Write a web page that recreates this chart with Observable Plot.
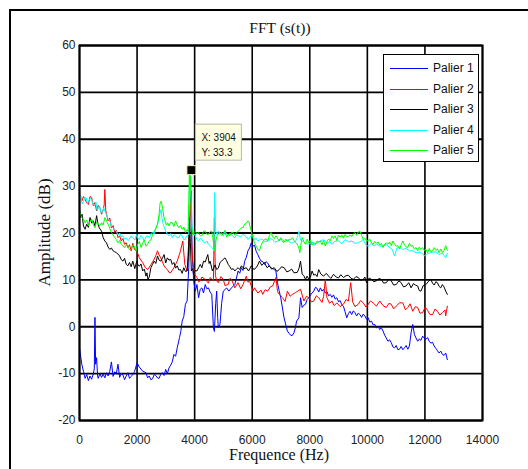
<!DOCTYPE html>
<html><head><meta charset="utf-8">
<script src="https://cdn.jsdelivr.net/npm/d3@7"></script>
<script src="https://cdn.jsdelivr.net/npm/@observablehq/plot@0.6"></script>
<style>
body{margin:0;background:#fff;}
#wrap{position:relative;width:528px;height:469px;overflow:hidden;background:#fff;}
#wrap svg{position:absolute;left:0;top:0;}
#fig{position:absolute;left:9px;top:9px;width:540px;height:480px;border-top:2px solid #000;border-left:2px solid #000;pointer-events:none;}
.ttl{position:absolute;font-family:"Liberation Serif","Times New Roman",serif;color:#111;white-space:nowrap;line-height:1;}
#legend{position:absolute;left:383px;top:54px;width:96px;height:108px;background:#fff;border:1px solid #000;box-sizing:border-box;font-family:"Liberation Sans",Arial,sans-serif;font-size:12px;color:#111;}
#legend .row{position:absolute;left:0;height:14px;line-height:14px;}
#legend .sw{position:absolute;left:6px;top:7px;width:38px;height:0;border-top:1px solid;}
#legend .lb{position:absolute;left:49px;top:0;white-space:nowrap;}
</style></head>
<body>
<div id="wrap"></div>
<script>
const seriesNames = ["Palier 1","Palier 2","Palier 3","Palier 4","Palier 5"];
const seriesColors = ["#0000ff","#ff0000","#000000","#00ffff","#00ff00"];
const xTicks = [0,2000,4000,6000,8000,10000,12000,14000];
const yTicks = [-20,-10,0,10,20,30,40,50,60];
const tipX = 3904, tipY = 33.3;
const tipLabels = ["X: 3904","Y: 33.3"];

const palier1 = [[0,-4.5],[80,-8.0],[137,-9.5],[194,-11.0],[251,-10.2],[309,-11.5],[366,-10.5],[423,-11.2],[480,-10.0],[514,-9.0],[537,2.0],[560,-8.0],[594,-6.6],[629,-10.5],[651,-11.0],[709,-10.0],[766,-10.8],[823,-10.1],[880,-10.9],[937,-9.8],[994,-10.5],[1052,-9.5],[1109,-7.5],[1166,-10.6],[1223,-9.6],[1280,-10.0],[1337,-8.0],[1394,-10.8],[1452,-9.9],[1509,-10.3],[1566,-11.3],[1623,-10.5],[1680,-9.8],[1737,-11.0],[1795,-10.6],[1852,-10.2],[1909,-9.6],[2000,-7.7],[2080,-8.6],[2195,-9.5],[2309,-9.8],[2366,-10.9],[2423,-10.5],[2480,-11.3],[2537,-11.1],[2595,-10.2],[2652,-10.4],[2709,-10.9],[2766,-11.0],[2823,-10.1],[2880,-9.8],[2938,-10.4],[2995,-9.1],[3052,-10.0],[3109,-8.8],[3166,-8.2],[3223,-7.5],[3280,-5.9],[3338,-6.3],[3395,-4.5],[3475,-2.3],[3520,-1.0],[3566,1.2],[3623,2.2],[3680,4.8],[3738,5.5],[3795,12.6],[3852,26.8],[3886,29.0],[3909,16.0],[3966,9.8],[4023,7.6],[4080,9.0],[4137,6.2],[4195,8.0],[4252,8.3],[4309,7.2],[4366,9.0],[4423,8.1],[4480,8.3],[4537,7.4],[4595,6.9],[4652,-0.2],[4686,-1.0],[4732,5.0],[4766,7.6],[4800,2.0],[4823,-0.2],[4880,0.5],[4937,5.0],[4995,7.6],[5052,7.9],[5109,8.3],[5189,7.6],[5281,8.3],[5395,9.0],[5452,10.4],[5509,11.9],[5566,11.4],[5624,12.6],[5681,12.0],[5738,14.0],[5795,14.8],[5852,16.2],[5909,16.8],[5966,17.9],[6023,17.2],[6081,17.4],[6138,16.1],[6195,15.4],[6252,14.6],[6309,14.0],[6366,13.9],[6423,13.3],[6480,13.9],[6538,13.6],[6595,12.9],[6652,12.6],[6738,12.3],[6823,11.9],[6877,9.4],[6935,7.7],[6991,6.2],[7050,4.0],[7106,1.9],[7160,0.6],[7221,-0.9],[7280,-1.4],[7335,-1.8],[7390,-1.9],[7450,-1.3],[7500,-0.2],[7541,1.2],[7622,1.9],[7679,6.2],[7736,4.1],[7794,4.6],[7851,4.8],[7908,5.8],[7966,6.2],[8050,7.0],[8138,7.6],[8195,8.4],[8252,8.2],[8310,7.4],[8367,8.3],[8424,7.6],[8481,8.0],[8540,7.2],[8596,7.5],[8654,6.6],[8711,6.9],[8768,6.3],[8825,6.8],[8882,5.9],[8940,6.2],[9000,5.3],[9054,5.6],[9112,4.7],[9169,4.4],[9226,3.2],[9284,1.9],[9341,2.8],[9398,3.3],[9455,2.6],[9513,3.4],[9570,3.0],[9627,2.3],[9685,2.9],[9742,2.6],[9800,2.0],[9857,2.7],[9914,2.3],[9971,1.6],[10029,1.9],[10086,1.0],[10143,1.2],[10200,0.4],[10258,0.5],[10315,-0.3],[10372,0.1],[10430,-0.6],[10486,-0.2],[10544,-0.9],[10601,-1.8],[10658,-2.4],[10716,-3.1],[10773,-2.8],[10831,-3.4],[10888,-4.3],[10946,-4.5],[11002,-4.0],[11060,-4.9],[11117,-4.8],[11174,-4.2],[11232,-4.9],[11289,-4.5],[11346,-4.0],[11404,-4.8],[11461,-4.1],[11519,-1.3],[11576,0.5],[11633,-1.6],[11690,-2.4],[11748,-3.1],[11805,-2.6],[11862,-2.9],[11920,-2.0],[11977,-2.4],[12034,-2.7],[12092,-2.3],[12149,-3.1],[12206,-3.5],[12263,-3.3],[12321,-4.1],[12378,-4.6],[12435,-5.1],[12493,-5.6],[12550,-5.2],[12607,-5.9],[12664,-6.1],[12722,-5.6],[12779,-7.0]];

const palier2 = [[0,28.3],[80,26.8],[137,27.8],[194,27.2],[251,26.4],[309,26.1],[366,27.8],[423,27.5],[480,25.8],[537,26.5],[594,24.7],[651,25.9],[709,25.4],[766,24.0],[823,25.0],[857,26.0],[880,29.3],[914,24.7],[994,22.6],[1052,23.2],[1109,21.1],[1166,21.6],[1223,20.1],[1280,20.6],[1337,19.0],[1394,19.4],[1452,18.3],[1509,18.8],[1566,17.6],[1623,17.9],[1680,16.9],[1737,17.5],[1795,16.2],[1852,17.8],[1909,16.5],[1989,16.2],[2080,14.7],[2195,13.7],[2286,12.6],[2366,12.2],[2480,13.2],[2595,14.4],[2652,15.2],[2709,16.2],[2766,15.3],[2823,14.7],[2938,13.0],[2995,12.5],[3052,12.2],[3109,11.6],[3166,11.5],[3280,12.6],[3395,14.0],[3509,16.2],[3589,18.3],[3658,13.3],[3738,11.9],[3795,18.3],[3829,23.3],[3863,26.8],[3898,18.0],[3932,14.0],[4000,11.2],[4080,10.5],[4137,9.6],[4195,9.8],[4252,10.6],[4366,10.1],[4480,9.3],[4537,10.5],[4652,9.8],[4686,23.3],[4720,11.0],[4766,9.8],[4823,9.4],[4915,10.7],[4995,10.1],[5052,8.8],[5166,9.0],[5223,10.3],[5281,10.1],[5395,8.3],[5509,9.4],[5600,8.1],[5681,9.0],[5795,10.8],[5852,9.5],[5909,9.8],[6023,7.6],[6080,8.3],[6195,7.2],[6309,7.8],[6366,6.9],[6446,7.9],[6538,7.6],[6629,8.5],[6709,8.7],[6823,10.5],[6880,7.5],[6937,6.9],[7052,6.2],[7143,5.4],[7223,7.6],[7315,6.5],[7395,6.9],[7507,7.3],[7679,8.0],[7794,5.5],[7885,6.5],[7966,6.2],[8057,5.3],[8138,5.5],[8229,6.6],[8309,6.2],[8424,5.2],[8481,6.5],[8539,10.1],[8596,6.2],[8688,5.0],[8768,5.5],[8848,4.5],[8940,5.1],[9054,4.3],[9169,4.8],[9261,5.8],[9341,5.5],[9421,9.4],[9490,5.3],[9570,4.3],[9685,4.8],[9765,5.6],[9857,5.1],[9948,4.2],[10029,4.8],[10109,5.5],[10200,5.1],[10315,4.4],[10429,5.5],[10544,4.5],[10658,4.1],[10750,5.0],[10831,4.8],[10911,3.8],[11002,4.4],[11117,5.1],[11232,5.1],[11323,3.6],[11404,4.1],[11484,4.9],[11576,3.3],[11667,4.3],[11748,4.1],[11828,2.9],[11920,3.0],[12011,4.2],[12092,3.5],[12172,2.6],[12263,2.6],[12355,3.8],[12435,3.3],[12515,2.5],[12607,3.0],[12698,3.6],[12721,2.3],[12779,4.4]];

const palier3 = [[0,25.0],[46,23.3],[91,24.0],[137,21.5],[194,20.8],[251,21.9],[309,21.2],[366,23.3],[423,22.1],[480,22.6],[537,21.5],[594,23.7],[640,22.0],[686,21.1],[766,20.4],[823,19.0],[880,18.3],[937,17.9],[994,17.0],[1052,16.5],[1109,16.8],[1166,16.2],[1223,16.0],[1280,15.8],[1337,15.5],[1394,15.1],[1452,14.3],[1509,14.0],[1566,14.6],[1623,13.3],[1680,13.0],[1737,13.7],[1795,12.8],[1852,14.0],[1920,12.4],[1989,14.0],[2034,13.2],[2080,12.9],[2137,13.4],[2195,11.9],[2252,12.3],[2309,10.8],[2343,11.5],[2377,10.1],[2423,10.6],[2480,12.6],[2537,13.3],[2595,14.0],[2652,13.5],[2709,15.1],[2766,14.2],[2823,14.0],[2880,14.6],[2938,15.4],[2995,13.6],[3052,14.7],[3109,14.2],[3166,14.4],[3223,13.3],[3280,13.7],[3338,12.5],[3395,13.0],[3452,12.1],[3509,12.2],[3566,11.4],[3623,12.6],[3680,11.8],[3738,11.9],[3783,15.0],[3817,23.3],[3852,18.0],[3886,11.9],[3932,12.4],[3966,11.2],[4023,12.0],[4080,11.9],[4137,12.6],[4195,13.3],[4252,12.6],[4309,14.0],[4366,13.8],[4457,15.4],[4503,13.5],[4537,14.0],[4617,11.9],[4663,12.5],[4709,13.2],[4766,12.2],[4823,12.5],[4880,13.7],[4937,14.0],[4995,14.4],[5052,14.7],[5109,14.1],[5166,13.3],[5223,12.8],[5281,12.2],[5338,12.4],[5395,11.9],[5452,12.3],[5509,12.6],[5566,12.2],[5623,13.0],[5715,12.4],[5795,12.6],[5875,11.9],[5966,13.0],[6058,12.2],[6138,12.6],[6195,13.2],[6251,14.0],[6332,13.1],[6423,13.7],[6515,12.6],[6595,13.0],[6675,12.3],[6766,12.6],[6858,11.8],[6938,12.2],[7018,12.8],[7109,12.6],[7201,11.7],[7281,11.9],[7372,12.3],[7452,11.5],[7565,11.6],[7622,12.4],[7679,14.0],[7736,11.2],[7794,10.9],[7851,10.1],[7908,10.8],[7966,10.1],[8023,10.6],[8080,11.9],[8138,11.0],[8195,11.2],[8252,10.7],[8309,12.2],[8390,11.2],[8481,10.8],[8573,11.4],[8654,10.8],[8734,10.3],[8825,11.2],[8917,10.6],[8997,10.4],[9077,11.1],[9169,10.5],[9261,10.9],[9341,11.0],[9421,10.4],[9513,10.1],[9604,10.7],[9685,10.5],[9765,9.9],[9857,10.1],[9914,10.6],[9971,9.4],[10063,10.4],[10143,10.1],[10223,9.6],[10315,9.8],[10406,10.3],[10486,10.1],[10567,9.3],[10658,9.4],[10750,10.2],[10831,9.8],[10911,8.9],[11002,9.0],[11094,9.8],[11174,9.4],[11254,8.5],[11346,8.7],[11438,9.4],[11519,8.3],[11598,9.2],[11667,8.9],[11748,8.7],[11805,7.7],[11862,7.6],[11942,8.8],[12034,9.0],[12126,9.7],[12206,10.1],[12263,9.3],[12321,8.9],[12378,9.6],[12435,9.4],[12493,8.6],[12550,8.3],[12607,9.0],[12664,8.5],[12721,7.6],[12779,6.9]];

const palier4 = [[0,26.8],[46,27.9],[91,26.2],[137,26.7],[183,27.6],[229,27.5],[274,26.3],[309,26.8],[366,27.4],[423,27.1],[480,26.0],[537,25.8],[571,26.6],[617,24.7],[663,25.6],[709,25.4],[754,24.3],[800,24.5],[846,25.4],[880,24.6],[937,24.0],[994,23.0],[1052,22.6],[1109,21.4],[1166,21.1],[1223,20.8],[1280,20.4],[1337,19.6],[1394,20.0],[1452,19.2],[1509,19.4],[1566,18.7],[1623,19.0],[1680,18.4],[1737,18.7],[1795,19.4],[1852,19.0],[1920,18.5],[1989,19.7],[2034,18.8],[2080,18.6],[2137,19.5],[2195,19.0],[2252,18.3],[2309,19.2],[2366,19.4],[2423,19.0],[2480,19.9],[2537,20.1],[2595,19.8],[2652,21.1],[2709,21.8],[2766,23.3],[2800,24.2],[2834,25.0],[2869,23.0],[2903,22.0],[2949,21.2],[2995,20.4],[3052,19.8],[3109,19.4],[3166,19.9],[3223,19.0],[3280,19.6],[3338,19.4],[3395,19.0],[3452,19.0],[3509,19.7],[3566,19.4],[3623,18.6],[3680,18.7],[3738,19.5],[3795,19.7],[3829,33.2],[3863,31.8],[3898,22.0],[3932,20.4],[3978,19.8],[4023,19.4],[4080,18.6],[4137,18.3],[4195,18.9],[4252,18.6],[4309,18.0],[4366,17.9],[4423,18.3],[4480,17.6],[4537,17.3],[4595,16.9],[4640,16.6],[4674,16.2],[4697,28.6],[4731,20.4],[4777,19.6],[4823,20.4],[4880,19.8],[4937,20.1],[4995,19.3],[5052,20.4],[5109,19.8],[5166,19.4],[5223,19.9],[5281,19.7],[5338,19.2],[5395,19.0],[5452,19.6],[5509,19.4],[5600,19.2],[5681,19.7],[5761,19.4],[5852,18.6],[5909,19.0],[5966,19.4],[6023,19.6],[6081,18.6],[6138,18.9],[6195,18.3],[6286,18.7],[6366,18.6],[6446,18.1],[6538,18.3],[6629,18.8],[6709,18.6],[6789,18.0],[6880,18.3],[6972,18.6],[7052,18.6],[7143,18.1],[7223,18.6],[7315,17.9],[7395,17.9],[7509,18.3],[7565,19.0],[7622,20.4],[7679,18.5],[7736,18.3],[7851,17.8],[7966,17.6],[8080,18.1],[8160,17.4],[8252,17.9],[8367,18.3],[8481,18.6],[8596,17.8],[8688,18.2],[8768,17.6],[8882,18.3],[8997,18.3],[9112,17.7],[9226,18.6],[9341,18.1],[9455,18.3],[9570,17.8],[9685,17.9],[9799,18.3],[9857,18.6],[9948,17.4],[10029,17.2],[10143,17.8],[10223,17.2],[10315,17.6],[10429,17.2],[10544,17.2],[10658,17.6],[10773,16.9],[10865,16.5],[10946,15.1],[11025,16.8],[11117,16.9],[11232,16.5],[11346,16.7],[11461,16.2],[11576,16.2],[11690,15.8],[11805,15.9],[11920,15.6],[11977,15.1],[12057,15.5],[12149,15.7],[12263,15.9],[12378,16.0],[12493,15.4],[12607,15.7],[12664,15.2],[12721,14.7],[12779,15.7]];

const palier5 = [[0,24.7],[46,23.7],[80,23.3],[137,23.0],[194,22.2],[251,22.8],[309,21.5],[366,22.5],[423,23.0],[480,21.8],[537,21.1],[594,22.4],[651,21.9],[709,21.6],[766,22.2],[823,21.7],[880,23.3],[937,22.6],[994,21.9],[1052,21.0],[1109,20.1],[1166,19.6],[1223,19.0],[1280,18.6],[1337,17.9],[1394,18.4],[1452,17.6],[1509,17.3],[1566,16.9],[1623,17.5],[1680,17.2],[1737,16.4],[1795,16.5],[1852,17.4],[1909,17.2],[1966,16.2],[2023,17.6],[2080,18.2],[2137,16.9],[2195,17.8],[2252,18.5],[2309,17.2],[2366,17.6],[2423,18.3],[2480,18.5],[2537,19.6],[2595,20.4],[2652,20.9],[2709,21.9],[2766,24.0],[2800,26.4],[2834,26.8],[2880,25.6],[2926,23.6],[2972,22.6],[3018,21.7],[3063,22.2],[3109,21.5],[3166,22.3],[3223,22.2],[3280,21.4],[3338,22.6],[3395,21.7],[3452,21.1],[3509,21.6],[3566,20.8],[3623,21.3],[3680,20.1],[3738,20.7],[3772,20.4],[3817,32.5],[3852,32.2],[3898,21.0],[3943,19.6],[3978,20.1],[4023,20.4],[4080,19.8],[4137,20.1],[4195,19.4],[4252,19.4],[4309,20.4],[4366,20.4],[4423,19.7],[4480,19.7],[4537,20.3],[4595,20.4],[4629,19.0],[4663,17.6],[4709,16.2],[4743,18.5],[4777,19.4],[4823,19.8],[4880,20.1],[4937,19.5],[4995,19.8],[5052,20.6],[5109,19.1],[5166,19.7],[5223,19.4],[5281,20.2],[5338,20.1],[5395,19.6],[5452,20.1],[5509,20.4],[5566,20.7],[5623,21.1],[5681,21.2],[5738,21.9],[5795,22.1],[5852,22.6],[5886,22.4],[5920,21.5],[5966,20.4],[6023,19.0],[6081,17.8],[6138,17.2],[6195,16.5],[6251,16.2],[6309,17.4],[6366,18.1],[6423,18.6],[6480,18.8],[6538,18.3],[6595,19.4],[6652,20.1],[6709,19.2],[6766,18.8],[6823,19.4],[6880,18.9],[6937,18.3],[6995,19.0],[7052,18.1],[7109,18.0],[7166,18.7],[7223,18.2],[7280,18.7],[7338,18.6],[7395,19.0],[7452,18.4],[7509,17.9],[7565,17.6],[7622,16.8],[7656,15.8],[7702,18.0],[7736,19.0],[7794,18.2],[7851,17.6],[7908,18.7],[7966,17.9],[8023,18.5],[8080,17.4],[8138,18.0],[8195,17.6],[8252,18.3],[8309,18.1],[8367,18.3],[8424,17.5],[8481,18.4],[8539,17.2],[8596,18.2],[8654,18.7],[8711,18.3],[8768,19.4],[8825,18.8],[8882,19.4],[8940,18.4],[8997,19.5],[9054,19.1],[9112,19.6],[9169,18.9],[9226,19.7],[9284,19.2],[9341,19.3],[9398,19.6],[9455,19.2],[9513,19.8],[9570,20.1],[9627,19.5],[9685,20.2],[9742,20.4],[9799,19.5],[9857,18.6],[9914,18.9],[9971,18.3],[10029,18.4],[10086,18.7],[10143,17.9],[10200,17.6],[10258,18.2],[10315,17.8],[10372,18.1],[10429,17.4],[10486,17.8],[10544,16.9],[10601,17.6],[10658,17.9],[10716,17.6],[10773,18.1],[10831,17.3],[10888,18.3],[10946,17.6],[11002,17.2],[11060,17.3],[11117,16.6],[11174,17.5],[11232,18.3],[11289,17.5],[11346,17.0],[11404,16.9],[11461,17.8],[11519,17.2],[11576,17.3],[11633,16.6],[11690,16.9],[11748,16.2],[11805,17.0],[11862,16.5],[11920,16.9],[11977,16.3],[12034,16.5],[12092,15.8],[12149,16.7],[12206,16.0],[12263,16.2],[12321,16.9],[12378,16.3],[12435,16.6],[12493,15.8],[12550,16.6],[12607,15.8],[12664,16.3],[12721,17.3],[12779,16.3]];

const allSeries = [palier1, palier2, palier3, palier4, palier5];
const fmt = d => String(d);

const chart = Plot.plot({
  width: 528, height: 469,
  marginLeft: 79, marginRight: 46, marginTop: 45, marginBottom: 49,
  x: {domain: [0, 14000]},
  y: {domain: [-20, 60]},
  style: {fontFamily: "'Liberation Sans', Arial, sans-serif", fontSize: "12px", color: "#222", background: "transparent", overflow: "visible"},
  marks: [
    Plot.gridX(xTicks, {stroke: "#000", strokeOpacity: 1, strokeWidth: 1.6}),
    Plot.gridY(yTicks, {stroke: "#000", strokeOpacity: 1, strokeWidth: 1.8}),
    Plot.axisX(xTicks, {tickSize: 0, tickPadding: 15, label: null, tickFormat: fmt, fontSize: 12}),
    Plot.axisY(yTicks, {tickSize: 0, tickPadding: 4, label: null, tickFormat: fmt, fontSize: 12}),
    ...allSeries.map((s, i) => Plot.line(s, {x: d => d[0], y: d => d[1], stroke: seriesColors[i], strokeWidth: 1})),
    Plot.frame({stroke: "#000", strokeWidth: 2})
  ]
});

const wrap = document.getElementById("wrap");
wrap.appendChild(chart);

// data tip
const sx = chart.scale("x"), sy = chart.scale("y");
const px = sx.apply(tipX), py = sy.apply(tipY);
const g = d3.select(chart).append("g").attr("text-anchor", "start");
g.append("rect").attr("x", px + 4).attr("y", py - 46).attr("width", 46).attr("height", 36)
  .attr("fill", "#ffffe1").attr("stroke", "#b8b8a8").attr("stroke-width", 1);
tipLabels.forEach((t, i) => {
  g.append("text").attr("x", px + 10).attr("y", py - 29 + i * 15).text(t)
    .attr("text-anchor", "start")
    .attr("font-family", "'Liberation Sans', Arial, sans-serif").attr("font-size", 10).attr("fill", "#111");
});
g.append("rect").attr("x", px - 4.5).attr("y", py - 4.5).attr("width", 9).attr("height", 9)
  .attr("fill", "#000").attr("stroke", "#fff8c0").attr("stroke-width", 1);

// outer figure frame
const fig = document.createElement("div"); fig.id = "fig"; wrap.appendChild(fig);

// titles
function addText(txt, css) {
  const d = document.createElement("div"); d.className = "ttl"; d.textContent = txt;
  Object.assign(d.style, css); wrap.appendChild(d); return d;
}
addText("FFT (s(t))", {left: "230px", width: "100px", textAlign: "center", top: "20px", fontSize: "15.5px"});
addText("Frequence (Hz)", {left: "179px", width: "200px", textAlign: "center", top: "447px", fontSize: "16px"});
addText("Amplitude (dB)", {left: "-56px", width: "200px", textAlign: "center", top: "224px", fontSize: "17px", transform: "rotate(-90deg)", transformOrigin: "50% 50%"});

// legend
const lg = document.createElement("div"); lg.id = "legend";
seriesNames.forEach((n, i) => {
  const r = document.createElement("div"); r.className = "row"; r.style.top = (6 + i * 20.5) + "px"; r.style.width = "94px";
  const sw = document.createElement("div"); sw.className = "sw"; sw.style.borderTopColor = seriesColors[i];
  const lb = document.createElement("div"); lb.className = "lb"; lb.textContent = n;
  r.appendChild(sw); r.appendChild(lb); lg.appendChild(r);
});
wrap.appendChild(lg);
</script>
</body></html>
